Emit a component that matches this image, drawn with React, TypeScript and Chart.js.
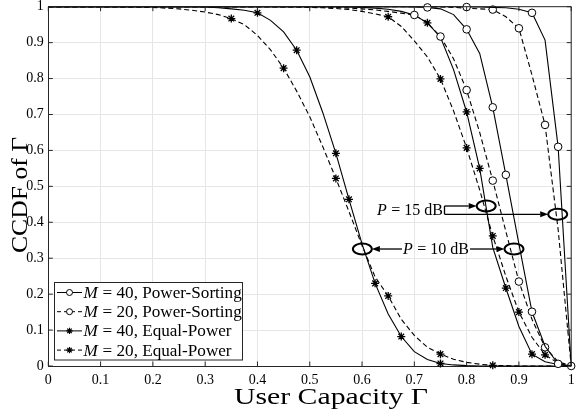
import React, { useEffect, useRef } from "react";
import { Chart, registerables } from "chart.js";

Chart.register(...registerables);

// ---------- data ----------
const capacity = [
  0, 0.025, 0.05, 0.075, 0.1, 0.125, 0.15, 0.175, 0.2, 0.225, 0.25, 0.275, 0.3, 0.325, 0.35, 0.375, 0.4,
  0.425, 0.45, 0.475, 0.5, 0.525, 0.55, 0.575, 0.6, 0.625, 0.65, 0.675, 0.7, 0.725, 0.75, 0.775, 0.8,
  0.825, 0.85, 0.875, 0.9, 0.925, 0.95, 0.975, 1,
];

const tickValues = [0, 0.1, 0.2, 0.3, 0.4, 0.5, 0.6, 0.7, 0.8, 0.9, 1];
const tickLabels = ["0", "0.1", "0.2", "0.3", "0.4", "0.5", "0.6", "0.7", "0.8", "0.9", "1"];

const xTitle = "User Capacity Γ";
const yTitle = "CCDF of Γ";

// Equal-Power, P = 10 dB
const epM40P10 = [
  1, 1, 1, 1, 1, 1, 1, 1, 1, 1, 1, 1,
  0.999, 0.997, 0.994, 0.99, 0.983, 0.962, 0.93, 0.879, 0.805, 0.705, 0.592, 0.464, 0.34, 0.23, 0.145,
  0.082, 0.04, 0.018, 0.007, 0.003, 0.001,
  0, 0, 0, 0, 0, 0, 0, 0,
];
const epM20P10 = [
  1, 1, 1, 1, 1, 1,
  0.999, 0.999, 0.998, 0.996, 0.994, 0.99, 0.985, 0.978, 0.967, 0.95, 0.92, 0.88, 0.829, 0.765, 0.694,
  0.61, 0.522, 0.43, 0.335, 0.248, 0.195, 0.13, 0.085, 0.052, 0.033, 0.019, 0.01, 0.005, 0.002, 0.001,
  0, 0, 0, 0, 0,
];
// Equal-Power, P = 15 dB
const epM20P15 = [
  1, 1, 1, 1, 1, 1, 1, 1, 1, 1, 1, 1, 1, 1, 1, 1, 1, 1,
  0.999, 0.999, 0.998, 0.997, 0.995, 0.992, 0.987, 0.98, 0.972, 0.945, 0.905, 0.86, 0.799, 0.71, 0.607,
  0.49, 0.362, 0.25, 0.15, 0.08, 0.031, 0.008, 0,
];
const epM40P15 = [
  1, 1, 1, 1, 1, 1, 1, 1, 1, 1, 1, 1, 1, 1, 1, 1, 1, 1, 1, 1, 1, 1, 1,
  0.999, 0.998, 0.996, 0.993, 0.987, 0.977, 0.955, 0.915, 0.825, 0.707, 0.55, 0.33, 0.217, 0.11, 0.033,
  0.012, 0.004, 0,
];
// Power-Sorting, P = 10 dB
const psM20P10 = [
  1, 1, 1, 1, 1, 1, 1, 1, 1, 1, 1, 1, 1, 1, 1, 1, 1, 1, 1, 1, 1,
  0.999, 0.998, 0.996, 0.994, 0.991, 0.987, 0.982, 0.977, 0.955, 0.917, 0.855, 0.768, 0.65, 0.516, 0.375,
  0.235, 0.13, 0.052, 0.012, 0,
];
const psM40P10 = [
  1, 1, 1, 1, 1, 1, 1, 1, 1, 1, 1, 1, 1, 1, 1, 1, 1, 1, 1, 1, 1, 1, 1, 1, 1, 1, 1, 1,
  0.999, 0.998, 0.994, 0.978, 0.937, 0.87, 0.72, 0.532, 0.34, 0.151, 0.055, 0.006, 0,
];
// Power-Sorting, P = 15 dB
const psM20P15 = [
  1, 1, 1, 1, 1, 1, 1, 1, 1, 1, 1, 1, 1, 1, 1, 1, 1, 1, 1, 1, 1, 1, 1, 1, 1, 1, 1, 1, 1, 1,
  0.999, 0.998, 0.996, 0.994, 0.992, 0.972, 0.94, 0.81, 0.671, 0.38, 0,
];
const psM40P15 = [
  1, 1, 1, 1, 1, 1, 1, 1, 1, 1, 1, 1, 1, 1, 1, 1, 1, 1, 1, 1, 1, 1, 1, 1, 1, 1, 1, 1, 1, 1, 1, 1,
  0.999, 0.999, 0.998, 0.997, 0.993, 0.983, 0.907, 0.61, 0,
];

// capacities at which markers are drawn
const epM40P10Marks = [0.4, 0.475, 0.55, 0.575, 0.625, 0.675, 0.75];
const epM20P10Marks = [0.35, 0.45, 0.55, 0.65, 0.75, 0.85];
const epM20P15Marks = [0.65, 0.75, 0.8, 0.85, 0.9, 0.95];
const epM40P15Marks = [0.725, 0.8, 0.825, 0.875, 0.925];
const psM20P10Marks = [0.7, 0.75, 0.8, 0.85, 0.9, 0.95];
const psM40P10Marks = [0.725, 0.8, 0.85, 0.875, 0.925, 0.975];
const psM20P15Marks = [0.85, 0.9, 0.95, 1];
const psM40P15Marks = [0.8, 0.925, 0.975];

const legendLabels = [
  "M = 40, Power-Sorting",
  "M = 20, Power-Sorting",
  "M = 40, Equal-Power",
  "M = 20, Equal-Power",
];

// annotation anchors (data units)
const ellipseAnchors = [
  { x: 0.8374, y: 0.4453 },
  { x: 0.9742, y: 0.4222 },
  { x: 0.6006, y: 0.3256 },
  { x: 0.8906, y: 0.3256 },
];
const p15Label = { value: "15 dB", x: 0.7577, y: 0.4203 };
const p10Label = { value: "10 dB", x: 0.7415, y: 0.3117 };

// ---------- styles ----------
const SERIF = '"Liberation Serif", "Times New Roman", serif';
const DASH = [5, 3];
const AX = "#262626";

type Curve = {
  label: string;
  values: number[];
  marks: number[];
  marker: "circle" | "star";
  dashed: boolean;
  inLegend: boolean;
};

const curves: Curve[] = [
  { label: legendLabels[0], values: psM40P10, marks: psM40P10Marks, marker: "circle", dashed: false, inLegend: true },
  { label: legendLabels[1], values: psM20P10, marks: psM20P10Marks, marker: "circle", dashed: true, inLegend: true },
  { label: legendLabels[2], values: epM40P10, marks: epM40P10Marks, marker: "star", dashed: false, inLegend: true },
  { label: legendLabels[3], values: epM20P10, marks: epM20P10Marks, marker: "star", dashed: true, inLegend: true },
  { label: legendLabels[0], values: psM40P15, marks: psM40P15Marks, marker: "circle", dashed: false, inLegend: false },
  { label: legendLabels[1], values: psM20P15, marks: psM20P15Marks, marker: "circle", dashed: true, inLegend: false },
  { label: legendLabels[2], values: epM40P15, marks: epM40P15Marks, marker: "star", dashed: false, inLegend: false },
  { label: legendLabels[3], values: epM20P15, marks: epM20P15Marks, marker: "star", dashed: true, inLegend: false },
];

function drawMarker(ctx: CanvasRenderingContext2D, kind: string, x: number, y: number, r: number) {
  ctx.save();
  ctx.setLineDash([]);
  ctx.strokeStyle = "#000";
  if (kind === "circle") {
    ctx.fillStyle = "#fff";
    ctx.lineWidth = 1;
    ctx.beginPath();
    ctx.arc(x, y, r, 0, Math.PI * 2);
    ctx.fill();
    ctx.stroke();
  } else {
    ctx.lineWidth = 1.2;
    ctx.beginPath();
    for (let k = 0; k < 4; k++) {
      const a = (k * Math.PI) / 4;
      ctx.moveTo(x - r * Math.cos(a), y - r * Math.sin(a));
      ctx.lineTo(x + r * Math.cos(a), y + r * Math.sin(a));
    }
    ctx.stroke();
  }
  ctx.restore();
}

function drawArrow(ctx: CanvasRenderingContext2D, x1: number, y: number, x2: number) {
  const dir = Math.sign(x2 - x1);
  const head = 8;
  const half = 3;
  ctx.beginPath();
  ctx.moveTo(x1, y);
  ctx.lineTo(x2 - dir * head, y);
  ctx.stroke();
  ctx.beginPath();
  ctx.moveTo(x2, y);
  ctx.lineTo(x2 - dir * head, y - half);
  ctx.lineTo(x2 - dir * head, y + half);
  ctx.closePath();
  ctx.fill();
}

// italic symbol followed by upright text, optionally stretched horizontally
function drawMath(
  ctx: CanvasRenderingContext2D,
  sym: string,
  rest: string,
  x: number,
  y: number,
  align: "left" | "center" | "right",
  size: number,
  stretch = 1
) {
  ctx.textAlign = "left";
  ctx.textBaseline = "alphabetic";
  ctx.font = `italic ${size}px ${SERIF}`;
  const w1 = ctx.measureText(sym).width + 0.5;
  ctx.font = `${size}px ${SERIF}`;
  const w2 = ctx.measureText(rest).width;
  const total = (w1 + w2) * stretch;
  const left = align === "left" ? x : align === "center" ? x - total / 2 : x - total;
  ctx.save();
  ctx.translate(left, y);
  ctx.scale(stretch, 1);
  ctx.font = `italic ${size}px ${SERIF}`;
  ctx.fillText(sym, 0, 0);
  ctx.font = `${size}px ${SERIF}`;
  ctx.fillText(rest, w1, 0);
  ctx.restore();
  return { left, right: left + total };
}

// text fitted to a given length (along its direction), centred on cx
function drawTitle(
  ctx: CanvasRenderingContext2D,
  text: string,
  cx: number,
  baseline: number,
  length: number,
  size: number,
  rotate: boolean
) {
  ctx.save();
  ctx.font = `${size}px ${SERIF}`;
  ctx.fillStyle = "#000";
  ctx.textAlign = "center";
  ctx.textBaseline = "alphabetic";
  const w = ctx.measureText(text).width;
  if (rotate) {
    ctx.translate(baseline, cx);
    ctx.rotate(-Math.PI / 2);
  } else {
    ctx.translate(cx, baseline);
  }
  ctx.scale(length / w, 1);
  ctx.fillText(text, 0, 0);
  ctx.restore();
}

const decorPlugin = {
  id: "decor",
  afterDatasetsDraw(chart: any) {
    const { ctx, chartArea: a, scales } = chart;
    const xs = scales.x;
    const ys = scales.y;
    ctx.save();

    // frame (top / right) and inward ticks
    ctx.strokeStyle = AX;
    ctx.lineWidth = 1;
    ctx.setLineDash([]);
    ctx.beginPath();
    ctx.moveTo(a.left, a.top);
    ctx.lineTo(a.right, a.top);
    ctx.lineTo(a.right, a.bottom);
    ctx.stroke();
    ctx.beginPath();
    for (const v of tickValues) {
      const px = xs.getPixelForValue(v);
      ctx.moveTo(px, a.bottom);
      ctx.lineTo(px, a.bottom - 4.5);
      ctx.moveTo(px, a.top);
      ctx.lineTo(px, a.top + 4.5);
      const py = ys.getPixelForValue(v);
      ctx.moveTo(a.left, py);
      ctx.lineTo(a.left + 4.5, py);
      ctx.moveTo(a.right, py);
      ctx.lineTo(a.right - 4.5, py);
    }
    ctx.stroke();

    // axis titles
    drawTitle(ctx, xTitle, 331, 404, 194, 24, false);
    drawTitle(ctx, yTitle, 195, 26.5, 116, 24, true);

    // ellipses
    ctx.strokeStyle = "#000";
    ctx.fillStyle = "#000";
    ctx.lineWidth = 2;
    const rx = 9.5;
    const ry = 5.5;
    const ePx = ellipseAnchors.map((e) => ({ x: xs.getPixelForValue(e.x), y: ys.getPixelForValue(e.y) }));
    for (const e of ePx) {
      ctx.beginPath();
      ctx.ellipse(e.x, e.y, rx, ry, 0, 0, Math.PI * 2);
      ctx.stroke();
    }

    // P = 15 dB label with two arrows
    ctx.lineWidth = 1.3;
    const sx = xs.getPixelForValue(p15Label.x);
    drawMath(ctx, "P", " = " + p15Label.value, sx - 1.5, ys.getPixelForValue(p15Label.y), "right", 16);
    drawArrow(ctx, sx, ePx[0].y, ePx[0].x - rx);
    drawArrow(ctx, sx, ePx[1].y, ePx[1].x - rx);
    ctx.beginPath();
    ctx.moveTo(sx, ePx[0].y);
    ctx.lineTo(sx, ePx[1].y);
    ctx.stroke();

    // P = 10 dB label with two arrows
    const t = drawMath(
      ctx,
      "P",
      " = " + p10Label.value,
      xs.getPixelForValue(p10Label.x),
      ys.getPixelForValue(p10Label.y),
      "center",
      16
    );
    drawArrow(ctx, t.left - 1, ePx[2].y, ePx[2].x + rx);
    drawArrow(ctx, t.right + 1, ePx[3].y, ePx[3].x - rx);

    // legend
    const box = { left: 54.5, top: 282.5, width: 188, height: 77.5 };
    ctx.fillStyle = "#fff";
    ctx.fillRect(box.left, box.top, box.width, box.height);
    ctx.strokeStyle = AX;
    ctx.lineWidth = 1;
    ctx.strokeRect(box.left, box.top, box.width, box.height);
    const entries = curves.filter((c) => c.inLegend);
    entries.forEach((c, i) => {
      const y = box.top + 10 + i * 19.2;
      const x1 = box.left + 2.5;
      const x2 = box.left + 27.5;
      ctx.strokeStyle = "#000";
      ctx.lineWidth = 1;
      ctx.setLineDash(c.dashed ? [4, 3] : []);
      ctx.beginPath();
      ctx.moveTo(x1, y);
      ctx.lineTo(x2, y);
      ctx.stroke();
      ctx.setLineDash([]);
      drawMarker(ctx, c.marker, (x1 + x2) / 2, y, c.marker === "circle" ? 3 : 3.2);
      ctx.fillStyle = "#000";
      drawMath(ctx, c.label.slice(0, 1), c.label.slice(1), x2 + 1.5, y + 5.5, "left", 16, 1.07);
    });

    ctx.restore();
  },
};

export default function App() {
  const ref = useRef<HTMLCanvasElement>(null);

  useEffect(() => {
    if (!ref.current) return;
    const datasets = curves.map((c) => ({
      label: c.label,
      data: capacity.map((x, i) => ({ x, y: c.values[i] })),
      borderColor: "#000",
      borderWidth: 1.1,
      borderDash: c.dashed ? DASH : [],
      pointStyle: c.marker,
      pointRadius: (ctx: any) => {
        const xv = ctx.raw ? ctx.raw.x : -1;
        return c.marks.some((m) => Math.abs(m - xv) < 1e-6) ? (c.marker === "circle" ? 3.8 : 4) : 0;
      },
      pointHoverRadius: 0,
      pointBackgroundColor: c.marker === "circle" ? "#fff" : "#000",
      pointBorderColor: "#000",
      pointBorderWidth: c.marker === "circle" ? 1 : 1.3,
      fill: false,
      tension: 0,
      clip: false as any,
    }));

    const tickFont = { family: SERIF, size: 14, lineHeight: 1 };

    const chart = new Chart(ref.current, {
      type: "line",
      data: { datasets },
      options: {
        animation: false,
        responsive: true,
        maintainAspectRatio: false,
        layout: { padding: { top: 6.7, right: 4.2, left: 0, bottom: 0 } },
        plugins: { legend: { display: false }, tooltip: { enabled: false } },
        events: [],
        scales: {
          x: {
            type: "linear",
            min: 0,
            max: 1,
            afterFit: (s: any) => {
              s.height = 46;
              s.paddingLeft = 0;
              s.paddingRight = 0;
            },
            afterBuildTicks: (s: any) => {
              s.ticks = tickValues.map((v) => ({ value: v }));
            },
            ticks: {
              autoSkip: false,
              maxRotation: 0,
              padding: 7,
              color: "#000",
              font: tickFont,
              callback: (v: any) => tickLabels[Math.round(Number(v) * 10)],
            },
            grid: { color: "#e6e6e6", lineWidth: 1, drawTicks: false },
            border: { color: AX, width: 1 },
            title: { display: false },
          },
          y: {
            type: "linear",
            min: 0,
            max: 1,
            afterFit: (s: any) => {
              s.width = 48.3;
              s.paddingTop = 0;
              s.paddingBottom = 0;
            },
            afterBuildTicks: (s: any) => {
              s.ticks = tickValues.map((v) => ({ value: v }));
            },
            ticks: {
              autoSkip: false,
              padding: 4.5,
              color: "#000",
              font: tickFont,
              callback: (v: any) => tickLabels[Math.round(Number(v) * 10)],
            },
            grid: { color: "#e6e6e6", lineWidth: 1, drawTicks: false },
            border: { color: AX, width: 1 },
            title: { display: false },
          },
        },
      },
      plugins: [decorPlugin],
    });
    return () => chart.destroy();
  }, []);

  return (
    <div style={{ position: "fixed", left: 0, top: 0, width: 576, height: 412, background: "#fff" }}>
      <canvas ref={ref} />
    </div>
  );
}
